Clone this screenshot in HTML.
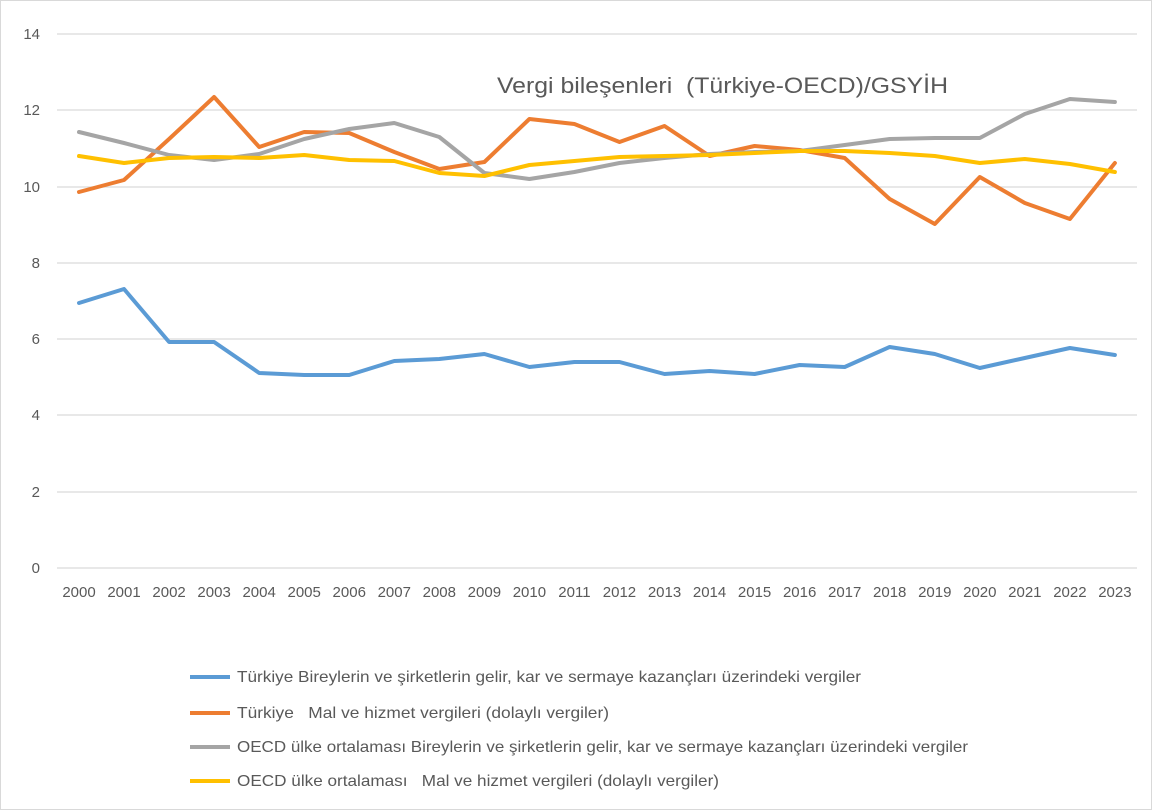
<!DOCTYPE html>
<html><head><meta charset="utf-8"><style>
html,body{margin:0;padding:0;background:#fff;}
svg{display:block;font-family:"Liberation Sans",sans-serif;}
text{white-space:pre;}
</style></head><body>
<svg width="1154" height="811" viewBox="0 0 1154 811" xmlns="http://www.w3.org/2000/svg">
<rect x="0.5" y="0.5" width="1151" height="809" fill="#fff" stroke="#d9d9d9"/>
<g stroke="#d9d9d9" stroke-width="1.3">
<line x1="57" x2="1137" y1="34" y2="34"/><line x1="57" x2="1137" y1="110" y2="110"/>
<line x1="57" x2="1137" y1="187" y2="187"/><line x1="57" x2="1137" y1="263" y2="263"/>
<line x1="57" x2="1137" y1="339" y2="339"/><line x1="57" x2="1137" y1="415" y2="415"/>
<line x1="57" x2="1137" y1="492" y2="492"/><line x1="57" x2="1137" y1="568" y2="568"/>
</g>
<g fill="#595959" font-size="15" text-anchor="end">
<text x="40" y="39">14</text><text x="40" y="115">12</text><text x="40" y="192">10</text>
<text x="40" y="268">8</text><text x="40" y="344">6</text><text x="40" y="420">4</text>
<text x="40" y="497">2</text><text x="40" y="573">0</text>
</g>
<g fill="#595959" font-size="15" text-anchor="middle" id="xl"></g>
<text x="497" y="93" fill="#595959" font-size="22" textLength="451" lengthAdjust="spacingAndGlyphs">Vergi bileşenleri  (Türkiye-OECD)/GSYİH</text>
<g fill="none" stroke-width="4" stroke-linejoin="round" stroke-linecap="round">
<polyline id="p1" stroke="#5b9bd5"/>
<polyline id="p2" stroke="#ed7d31"/>
<polyline id="p3" stroke="#a5a5a5"/>
<polyline id="p4" stroke="#ffc000"/>
</g>
<g stroke-width="4">
<line x1="190" x2="230" y1="677" y2="677" stroke="#5b9bd5"/>
<line x1="190" x2="230" y1="713" y2="713" stroke="#ed7d31"/>
<line x1="190" x2="230" y1="747" y2="747" stroke="#a5a5a5"/>
<line x1="190" x2="230" y1="781" y2="781" stroke="#ffc000"/>
</g>
<g fill="#595959" font-size="16" lengthAdjust="spacingAndGlyphs">
<text x="237" y="682" textLength="624" lengthAdjust="spacingAndGlyphs">Türkiye Bireylerin ve şirketlerin gelir, kar ve sermaye kazançları üzerindeki vergiler</text>
<text x="237" y="718" textLength="372" lengthAdjust="spacingAndGlyphs">Türkiye   Mal ve hizmet vergileri (dolaylı vergiler)</text>
<text x="237" y="752" textLength="731" lengthAdjust="spacingAndGlyphs">OECD ülke ortalaması Bireylerin ve şirketlerin gelir, kar ve sermaye kazançları üzerindeki vergiler</text>
<text x="237" y="786" textLength="482" lengthAdjust="spacingAndGlyphs">OECD ülke ortalaması   Mal ve hizmet vergileri (dolaylı vergiler)</text>
</g>
</svg>
<script>
var d={p1:[303,289,342,342,373,375,375,361,359,354,367,362,362,374,371,374,365,367,347,354,368,358,348,355],
p2:[192,180,139,97,147,132,133,152,169,162,119,124,142,126,156,146,150,158,199,224,177,203,219,163],
p3:[132,143,155,160,154,139,129,123,137,173,179,172,163,158,154,152,151,145,139,138,138,114,99,102],
p4:[156,163,158,157,158,155,160,161,173,176,165,161,157,156,155,153,151,151,153,156,163,159,164,172]};
function X(i){return 79+i*45.04;}
for(var k in d){document.getElementById(k).setAttribute('points',d[k].map(function(y,i){return X(i).toFixed(1)+','+y;}).join(' '));}
var g=document.getElementById('xl'),ns='http://www.w3.org/2000/svg';
for(var i=0;i<24;i++){var t=document.createElementNS(ns,'text');t.setAttribute('x',X(i));t.setAttribute('y',597);t.textContent=2000+i;g.appendChild(t);}
</script>
</body></html>
